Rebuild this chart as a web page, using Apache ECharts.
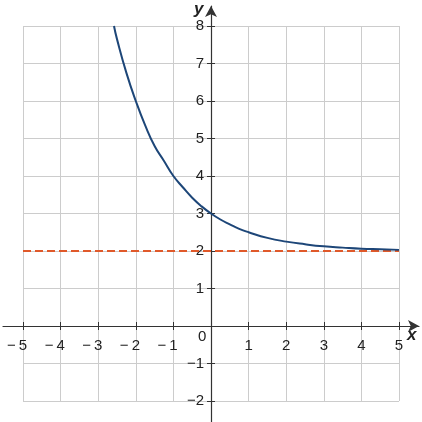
<!DOCTYPE html>
<html>
<head>
<meta charset="utf-8">
<script src="https://cdn.jsdelivr.net/npm/echarts@6/dist/echarts.min.js"></script>
<style>
  html, body { margin: 0; padding: 0; background: #fff; }
  #chart { width: 422px; height: 422px; }
</style>
</head>
<body>
<div id="chart"></div>
<script>
// values
var curveX = [-2.58, -2.5, -2.25, -2, -1.75, -1.5, -1.25, -1, -0.75, -0.5, -0.25, 0,
              0.25, 0.5, 0.75, 1, 1.5, 2, 2.5, 3, 3.5, 4, 4.5, 5];
var curveY = [8.0, 7.65, 6.75, 6.0, 5.35, 4.8, 4.4, 4.0, 3.7, 3.42, 3.19, 3.0,
              2.84, 2.71, 2.59, 2.5, 2.35, 2.25, 2.18, 2.125, 2.09, 2.06, 2.045, 2.03];
var asymX = [-5, 5];
var asymY = [2, 2];
var xRange = [-5, 5];
var yRange = [-2, 8];

function pairs(xs, ys) {
    var out = [];
    for (var i = 0; i < xs.length; i++) {
        out.push([xs[i], ys[i]]);
    }
    return out;
}
function minus(v) {
    if (v === 0) return '';
    return String(v).replace('-', '\u2212');
}
// x labels: keep the digit centred on the tick, the minus hangs left
function minusX(v) {
    if (v === 0) return '';
    if (v < 0) return '{n|\u2212\u2009' + (-v) + '}{s|\u2212\u2009}';
    return '{n|' + v + '}';
}

var axisColor = '#333';
var gridColor = '#cccccc';
var font = 'Liberation Sans, Arial, sans-serif';
var fs = 15;
var W = 422, H = 422;
var box = {left: 23, right: 23, top: 26, bottom: 21};
var plotW = W - box.left - box.right;
var plotH = H - box.top - box.bottom;
// shift label axes from the box edge to the zero lines
var xAxisShift = -plotH * (0 - yRange[0]) / (yRange[1] - yRange[0]);
var yAxisShift = -plotW * (0 - xRange[0]) / (xRange[1] - xRange[0]);

// grid 0: grid lines + series
// grid 1: long axis lines with arrows
// grid 2: labels and outer ticks
// grid 3: inner ticks
function splitAxis(min, max) {
    return {
        gridIndex: 0, type: 'value', min: min, max: max, interval: 1,
        axisLine: {show: false},
        axisTick: {show: false},
        axisLabel: {show: false},
        splitLine: {show: true, lineStyle: {color: gridColor, width: 1}}
    };
}
function tickAxis(grid, inside, labels, min, max, margin, shift, fmt) {
    return {
        gridIndex: grid, type: 'value', min: min, max: max, interval: 1,
        offset: shift,
        axisLine: {show: false, onZero: false},
        axisTick: {show: true, inside: inside, length: 4, lineStyle: {color: axisColor}},
        axisLabel: {show: labels, formatter: fmt, margin: margin, color: '#222',
            fontSize: fs, fontFamily: font,
            rich: {
                n: {color: '#222', fontSize: fs, fontFamily: font},
                s: {color: 'rgba(0,0,0,0)', fontSize: fs, fontFamily: font}
            }},
        splitLine: {show: false}
    };
}
function arrowAxis(min, max) {
    return {
        gridIndex: 1, type: 'value', min: min, max: max,
        axisLine: {onZero: true, symbol: ['none', 'arrow'], symbolSize: [9, 11],
            lineStyle: {color: axisColor, width: 1.2}},
        axisTick: {show: false},
        axisLabel: {show: false},
        splitLine: {show: false}
    };
}

var chart = echarts.init(document.getElementById('chart'));
var option = {
    animation: false,
    grid: [box, {left: 3, right: 3, top: 6, bottom: 0}, box, box],
    xAxis: [
        splitAxis(xRange[0], xRange[1]),
        arrowAxis(-5.532, 5.532),
        tickAxis(2, false, true, xRange[0], xRange[1], 12, xAxisShift, minusX),
        tickAxis(3, true, false, xRange[0], xRange[1], 12, xAxisShift, minusX)
    ],
    yAxis: [
        splitAxis(yRange[0], yRange[1]),
        arrowAxis(-2.56, 8.533),
        tickAxis(2, false, true, yRange[0], yRange[1], 7, yAxisShift, minus),
        tickAxis(3, true, false, yRange[0], yRange[1], 7, yAxisShift, minus)
    ],
    graphic: [
        {type: 'text', left: 198, top: 329,
            style: {text: '0', font: fs + 'px ' + font, fill: '#222'}},
        {type: 'text', left: 407, top: 327,
            style: {text: 'x', font: 'italic bold 17px ' + font, fill: '#222'}},
        {type: 'text', left: 194, top: 1,
            style: {text: 'y', font: 'italic bold 17px ' + font, fill: '#222'}}
    ],
    series: [
        {
            type: 'line', xAxisIndex: 0, yAxisIndex: 0,
            data: pairs(asymX, asymY),
            symbol: 'none',
            lineStyle: {color: '#e0592a', width: 2, type: [8, 4]},
            z: 3
        },
        {
            type: 'line', xAxisIndex: 0, yAxisIndex: 0,
            data: pairs(curveX, curveY),
            smooth: 0.5,
            symbol: 'none',
            lineStyle: {color: '#1d4678', width: 2},
            z: 4
        }
    ]
};
chart.setOption(option);
</script>
</body>
</html>
